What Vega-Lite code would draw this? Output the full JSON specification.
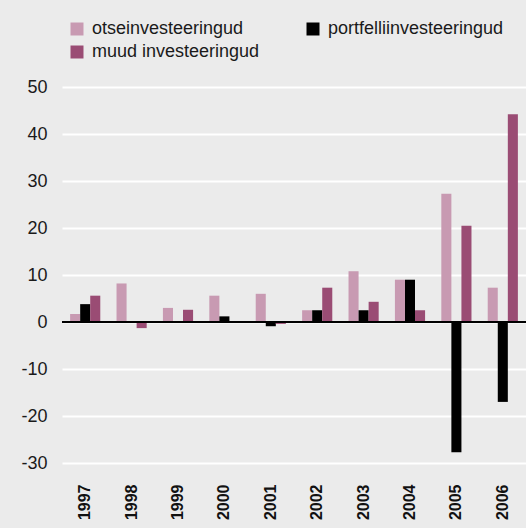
{
  "$schema": "https://vega.github.io/schema/vega-lite/v6.json",
  "width": 464,
  "height": 376,
  "autosize": {"type": "none"},
  "padding": {"left": 62, "top": 87, "right": 0, "bottom": 65},
  "background": "#ebebeb",
  "config": {
    "view": {"stroke": null},
    "font": "Liberation Sans"
  },
  "data": {
    "values": [
      {"year": "1997", "type": "otseinvesteeringud", "value": 1.7},
      {"year": "1997", "type": "portfelliinvesteeringud", "value": 3.8},
      {"year": "1997", "type": "muud investeeringud", "value": 5.6},
      {"year": "1998", "type": "otseinvesteeringud", "value": 8.2},
      {"year": "1998", "type": "portfelliinvesteeringud", "value": 0},
      {"year": "1998", "type": "muud investeeringud", "value": -1.3},
      {"year": "1999", "type": "otseinvesteeringud", "value": 3.0},
      {"year": "1999", "type": "portfelliinvesteeringud", "value": 0},
      {"year": "1999", "type": "muud investeeringud", "value": 2.6},
      {"year": "2000", "type": "otseinvesteeringud", "value": 5.6},
      {"year": "2000", "type": "portfelliinvesteeringud", "value": 1.2},
      {"year": "2000", "type": "muud investeeringud", "value": 0},
      {"year": "2001", "type": "otseinvesteeringud", "value": 6.0},
      {"year": "2001", "type": "portfelliinvesteeringud", "value": -0.9},
      {"year": "2001", "type": "muud investeeringud", "value": -0.4},
      {"year": "2002", "type": "otseinvesteeringud", "value": 2.5},
      {"year": "2002", "type": "portfelliinvesteeringud", "value": 2.5},
      {"year": "2002", "type": "muud investeeringud", "value": 7.3},
      {"year": "2003", "type": "otseinvesteeringud", "value": 10.8},
      {"year": "2003", "type": "portfelliinvesteeringud", "value": 2.5},
      {"year": "2003", "type": "muud investeeringud", "value": 4.3},
      {"year": "2004", "type": "otseinvesteeringud", "value": 9.0},
      {"year": "2004", "type": "portfelliinvesteeringud", "value": 9.0},
      {"year": "2004", "type": "muud investeeringud", "value": 2.5},
      {"year": "2005", "type": "otseinvesteeringud", "value": 27.3},
      {"year": "2005", "type": "portfelliinvesteeringud", "value": -27.7},
      {"year": "2005", "type": "muud investeeringud", "value": 20.5},
      {"year": "2006", "type": "otseinvesteeringud", "value": 7.3},
      {"year": "2006", "type": "portfelliinvesteeringud", "value": -17.0},
      {"year": "2006", "type": "muud investeeringud", "value": 44.2}
    ]
  },
  "layer": [
    {
      "mark": {"type": "bar", "orient": "vertical"},
      "encoding": {
        "x": {
          "field": "year",
          "type": "nominal",
          "scale": {"paddingInner": 0.35, "paddingOuter": 0.175},
          "axis": {
            "title": null,
            "labelAngle": -90,
            "labelAlign": "right",
            "labelBaseline": "middle",
            "labelFontSize": 16,
            "labelFontWeight": "bold",
            "labelColor": "#111111",
            "labelPadding": 21,
            "ticks": false,
            "domain": false,
            "grid": false
          }
        },
        "xOffset": {
          "field": "type",
          "type": "nominal",
          "sort": ["otseinvesteeringud", "portfelliinvesteeringud", "muud investeeringud"],
          "scale": {"paddingInner": 0, "paddingOuter": 0}
        },
        "y": {
          "field": "value",
          "type": "quantitative",
          "scale": {"domain": [-30, 50], "nice": false, "zero": true},
          "axis": {
            "title": null,
            "values": [-30, -20, -10, 0, 10, 20, 30, 40, 50],
            "labelExpr": "datum.value + ''",
            "labelFontSize": 18,
            "labelColor": "#1a1a1a",
            "labelPadding": 15,
            "ticks": false,
            "domain": false,
            "grid": true,
            "gridColor": "#ffffff",
            "gridWidth": 2,
            "gridOpacity": 1
          }
        },
        "color": {
          "field": "type",
          "type": "nominal",
          "scale": {
            "domain": ["otseinvesteeringud", "portfelliinvesteeringud", "muud investeeringud"],
            "range": ["#c89ab2", "#000000", "#9a4c74"]
          },
          "legend": {
            "title": null,
            "orient": "none",
            "legendX": 6,
            "legendY": -67,
            "direction": "horizontal",
            "columns": 2,
            "symbolType": "square",
            "symbolSize": 169,
            "symbolStrokeWidth": 0,
            "symbolOpacity": 1,
            "labelFontSize": 18,
            "labelColor": "#1a1a1a",
            "labelOffset": 6,
            "columnPadding": 44,
            "rowPadding": 5,
            "labelLimit": 300
          }
        }
      }
    },
    {
      "mark": {"type": "rule", "color": "#000000", "strokeWidth": 2},
      "encoding": {"y": {"datum": 0}}
    }
  ]
}
